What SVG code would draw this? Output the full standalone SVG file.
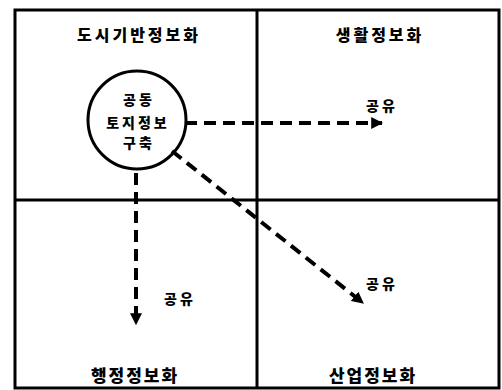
<svg xmlns="http://www.w3.org/2000/svg" width="502" height="390" viewBox="0 0 502 390">
<defs>
<style>
.t{font-family:"Noto Sans CJK KR","Noto Sans",sans-serif;font-weight:900;fill:#000;text-anchor:middle;dominant-baseline:central}
.h{font-size:16px;letter-spacing:3px}
.b{font-size:17px;letter-spacing:2px}
.s{font-size:14px;letter-spacing:3px}
.frame{fill:none;stroke:#000;stroke-width:3}
.dash{fill:none;stroke:#000;stroke-width:4;stroke-dasharray:12 7}
</style>
<marker id="ah" viewBox="0 0 10 10" refX="9" refY="5" markerWidth="3" markerHeight="3" orient="auto" markerUnits="strokeWidth">
<path d="M0,0 L10,5 L0,10 Z" fill="#000"/>
</marker>
</defs>
<rect width="502" height="390" fill="#fff"/>
<g id="frame">
<rect class="frame" x="15" y="10" width="484" height="378"/>
<line class="frame" x1="257" y1="10" x2="257" y2="388"/>
<line class="frame" x1="15" y1="200" x2="499" y2="200"/>
</g>
<g id="q1"><text class="t h" x="139" y="34">도시기반정보화</text></g>
<g id="q2"><text class="t h" x="380" y="34">생활정보화</text></g>
<g id="q3"><text class="t b" x="135" y="374">행정정보화</text></g>
<g id="q4"><text class="t b" x="373" y="374">산업정보화</text></g>
<g id="center">
<circle cx="137" cy="120" r="49" fill="none" stroke="#000" stroke-width="3"/>
<text class="t s" x="139" y="99">공동</text>
<text class="t s" x="138" y="122">토지정보</text>
<text class="t s" x="139" y="142">구축</text>
</g>
<g id="connectors">
<line class="dash" x1="185" y1="123" x2="382" y2="123" marker-end="url(#ah)"/>
<line class="dash" x1="136" y1="173" x2="136" y2="324" marker-end="url(#ah)"/>
<line class="dash" x1="172" y1="151" x2="363" y2="303" marker-end="url(#ah)"/>
</g>
<g id="labels">
<text class="t s" x="382" y="105">공유</text>
<text class="t s" x="180" y="298">공유</text>
<text class="t s" x="382" y="283">공유</text>
</g>
</svg>
